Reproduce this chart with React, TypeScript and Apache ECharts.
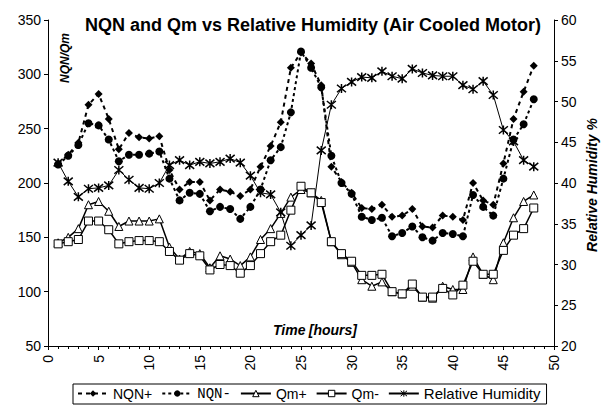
import React, { useEffect, useRef } from "react";
import * as echarts from "echarts";

const hours = [1, 2, 3, 4, 5, 6, 7, 8, 9, 10, 11, 12, 13, 14, 15, 16, 17, 18, 19, 20, 21, 22, 23, 24, 25, 26, 27, 28, 29, 30, 31, 32, 33, 34, 35, 36, 37, 38, 39, 40, 41, 42, 43, 44, 45, 46, 47, 48];

const nqnPlus = [218, 226, 237, 272, 282, 259, 231, 246, 242, 241, 243, 212, 194, 201, 201, 184, 194, 192, 188, 194, 215, 234, 256, 306, 320, 310, 290, 215, 201, 191, 177, 176, 180, 169, 170, 176, 160, 159, 170, 169, 166, 200, 184, 180, 218, 259, 284, 308];

const nqnMinus = [217, 225, 235, 255, 253, 240, 220, 226, 226, 227, 229, 204, 184, 191, 190, 174, 178, 176, 167, 178, 194, 221, 233, 265, 321, 306, 288, 225, 200, 190, 169, 166, 168, 151, 154, 160, 150, 147, 154, 153, 151, 189, 178, 170, 204, 240, 254, 277];

const qmPlus = [145, 150, 158, 180, 183, 174, 160, 165, 165, 165, 167, 141, 130, 137, 135, 122, 133, 130, 124, 132, 148, 158, 172, 187, 194, 191, 184, 146, 134, 127, 111, 105, 109, 100, 98, 105, 95, 94, 105, 102, 102, 132, 116, 111, 145, 168, 183, 189];

const qmMinus = [144, 146, 148, 165, 165, 157, 144, 146, 147, 147, 146, 137, 129, 135, 133, 120, 125, 124, 117, 124, 135, 146, 152, 175, 197, 191, 182, 146, 135, 128, 115, 115, 116, 100, 98, 107, 95, 95, 103, 97, 106, 128, 116, 116, 138, 152, 158, 177];

const relHumidity = [42.5, 40.2, 38.3, 39.3, 39.4, 39.7, 41.6, 40.4, 39.4, 39.3, 40.0, 42.2, 42.8, 42.2, 42.6, 42.4, 42.6, 43.0, 42.5, 40.9, 38.8, 38.6, 36.4, 32.3, 33.6, 34.8, 44.0, 49.6, 51.6, 52.4, 53.0, 52.9, 53.7, 53.1, 52.8, 54.0, 53.5, 53.2, 53.1, 53.1, 52.0, 51.5, 52.5, 50.8, 46.5, 45.1, 42.8, 42.0];

const seriesNames = ["NQN+", "NQN-", "Qm+", "Qm-", "Relative Humidity"];
const titleText = "NQN and Qm vs Relative Humidity (Air Cooled Motor)";
const leftAxisTitle = "NQN/Qm";
const rightAxisTitle = "Relative Humidity %";

const SANS = "'Liberation Sans', Arial, sans-serif";
const MONO = "'Liberation Mono', 'Courier New', monospace";
const ASTERISK = "path://M0 0L10 10M10 0L0 10M5 -1L5 11";

const pairs = (vals: number[]) => hours.map((h, i) => [h, vals[i]]);

export default function App() {
  const ref = useRef<HTMLDivElement>(null);
  useEffect(() => {
    document.body.style.margin = "0";
    const chart = echarts.init(ref.current!, null, { renderer: "svg" });
    const axisCommon = {
      axisLine: { show: true, lineStyle: { color: "#000", width: 1 } },
      axisTick: { show: true, length: 4, lineStyle: { color: "#000" } },
      splitLine: { show: false },
      axisLabel: { color: "#000", fontFamily: SANS, fontSize: 14 },
    };
    chart.setOption({
      animation: false,
      backgroundColor: "#fff",
      grid: { left: 48, right: 55, top: 20, bottom: 59, containLabel: false },
      xAxis: {
        type: "value",
        min: 0,
        max: 50,
        interval: 5,
        ...axisCommon,
        axisLabel: { ...axisCommon.axisLabel, rotate: 90, margin: 9 },
        minorTick: { show: true, splitNumber: 5, length: 3, lineStyle: { color: "#000" } },
      },
      yAxis: [
        {
          type: "value",
          min: 50,
          max: 350,
          interval: 50,
          position: "left",
          ...axisCommon,
          axisLabel: { ...axisCommon.axisLabel, margin: 7 },
        },
        {
          type: "value",
          min: 20,
          max: 60,
          interval: 5,
          position: "right",
          ...axisCommon,
          axisLabel: { ...axisCommon.axisLabel, margin: 7 },
        },
      ],
      legend: {
        data: seriesNames,
        left: 73,
        top: 384,
        itemWidth: 30,
        itemHeight: 8,
        itemGap: 9,
        padding: [2, 6, 3, 4],
        borderColor: "#000",
        borderWidth: 1,
        itemStyle: { borderWidth: 1 },
        textStyle: {
          color: "#000",
          fontFamily: SANS,
          fontSize: 14,
          rich: {
            mono: { fontFamily: MONO, fontSize: 14, color: "#000" },
            big: { fontFamily: SANS, fontSize: 15, color: "#000" },
          },
        },
        formatter: (n: string) =>
          n === "NQN-" ? "{mono|NQN-}" : n === "Relative Humidity" ? "{big|Relative Humidity}" : n,
      },
      graphic: [
        {
          type: "text",
          x: 313,
          y: 25,
          style: {
            text: titleText,
            font: `bold 18px ${SANS}`,
            fill: "#000",
            textAlign: "center",
            textVerticalAlign: "middle",
            align: "center",
            verticalAlign: "middle",
          },
        },
        {
          type: "text",
          x: 65,
          y: 58,
          rotation: Math.PI / 2,
          style: {
            text: leftAxisTitle,
            font: `italic bold 12px ${SANS}`,
            fill: "#000",
            textAlign: "center",
            textVerticalAlign: "middle",
            align: "center",
            verticalAlign: "middle",
          },
        },
        {
          type: "text",
          x: 592,
          y: 185,
          rotation: Math.PI / 2,
          style: {
            text: rightAxisTitle,
            font: `italic bold 14px ${SANS}`,
            fill: "#000",
            textAlign: "center",
            textVerticalAlign: "middle",
            align: "center",
            verticalAlign: "middle",
          },
        },
        {
          type: "text",
          x: 273,
          y: 330,
          style: {
            text: "{b|Time} {n|[hours]}",
            fill: "#000",
            textAlign: "left",
            textVerticalAlign: "middle",
            align: "left",
            verticalAlign: "middle",
            rich: {
              b: { font: `italic bold 14px ${SANS}`, fill: "#000" },
              n: { font: `italic bold 14px ${SANS}`, fill: "#000" },
            },
          },
        },
      ],
      series: [
        {
          name: "NQN+",
          type: "line",
          data: pairs(nqnPlus),
          symbol: "diamond",
          symbolSize: 8,
          itemStyle: { color: "#000" },
          lineStyle: { color: "#000", width: 2, type: [4, 4] },
        },
        {
          name: "NQN-",
          type: "line",
          data: pairs(nqnMinus),
          symbol: "circle",
          symbolSize: 8,
          itemStyle: { color: "#000" },
          lineStyle: { color: "#000", width: 2, type: [3, 3] },
        },
        {
          name: "Qm+",
          type: "line",
          data: pairs(qmPlus),
          symbol: "triangle",
          symbolSize: 8,
          itemStyle: { color: "#fff", borderColor: "#000", borderWidth: 1 },
          lineStyle: { color: "#000", width: 1.5 },
        },
        {
          name: "Qm-",
          type: "line",
          data: pairs(qmMinus),
          symbol: "rect",
          symbolSize: 8,
          itemStyle: { color: "#fff", borderColor: "#000", borderWidth: 1 },
          lineStyle: { color: "#000", width: 1.5 },
        },
        {
          name: "Relative Humidity",
          type: "line",
          yAxisIndex: 1,
          data: pairs(relHumidity),
          symbol: ASTERISK,
          symbolSize: 9,
          itemStyle: { color: "#000", borderColor: "#000", borderWidth: 1.5 },
          lineStyle: { color: "#000", width: 1 },
        },
      ],
    });
    return () => chart.dispose();
  }, []);
  return <div ref={ref} style={{ width: 609, height: 405 }} />;
}
